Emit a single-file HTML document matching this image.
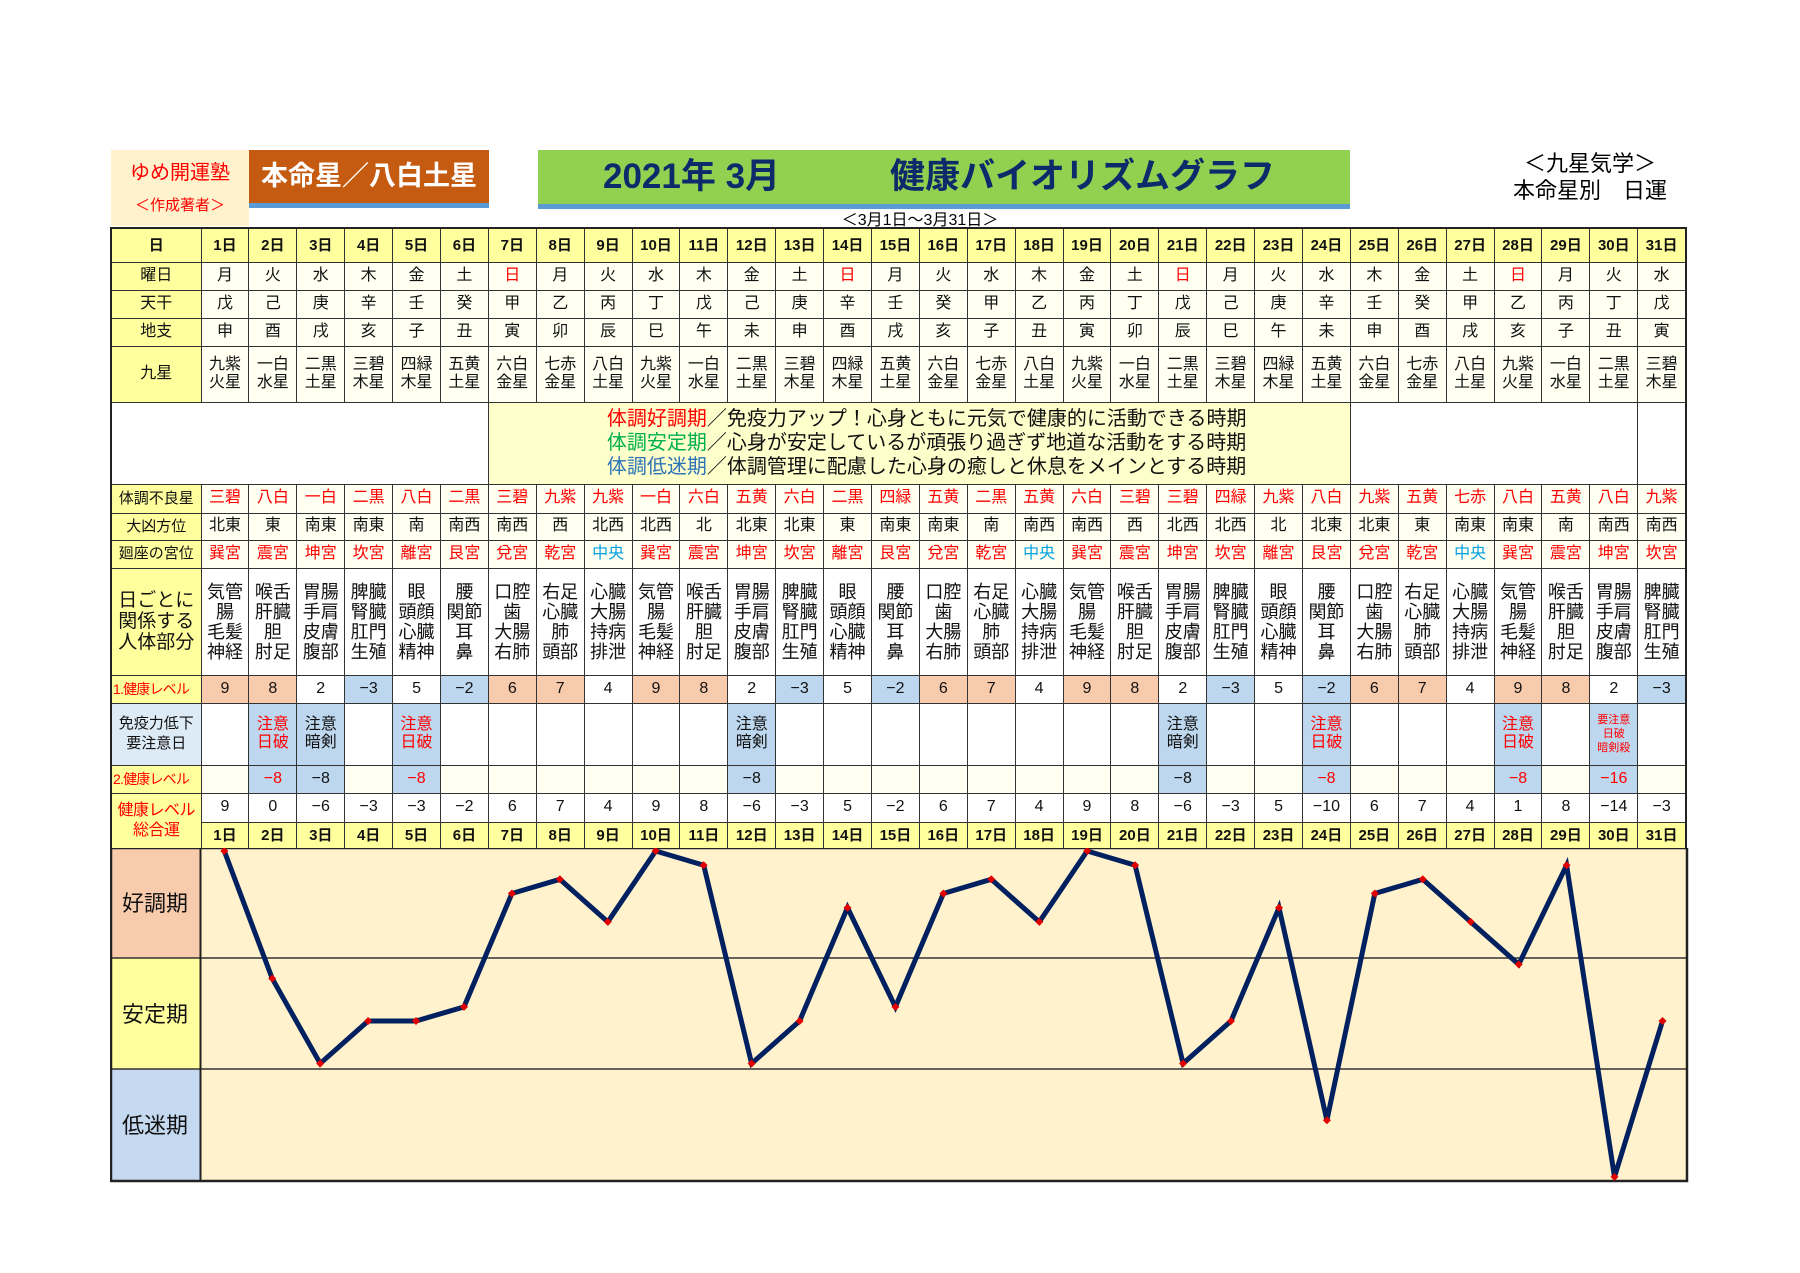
<!DOCTYPE html>
<html><head><meta charset="utf-8">
<style>
body{margin:0;width:1800px;height:1273px;background:#fff;position:relative;overflow:hidden;font-family:"Liberation Sans","Noto Sans CJK JP",sans-serif;}
.abs{position:absolute;}
table{position:absolute;left:110px;top:227px;border-collapse:collapse;table-layout:fixed;width:1577px;border:2.5px solid #222;}
td{border:1.5px solid #333;text-align:center;vertical-align:middle;padding:0;font-size:16px;color:#111;background:#fffff2;overflow:hidden;line-height:1.15;white-space:nowrap;}
td.l{background:#ffff9e;font-size:16px;}
tr.h td{background:#ffff9e;font-weight:bold;font-size:15px;}
.r{color:#f00;}.b{color:#00a0e0;}
tr.bd td{font-size:18px;line-height:20px;background:#fff;}
td.o{background:#f8cbad;}td.u{background:#bdd7ee;}td.w{background:#fff;}
td.lv{font-size:14px;letter-spacing:-0.8px;text-align:left;padding-left:1px;}
</style></head><body>
<div class="abs" style="left:111px;top:150px;width:138px;height:76px;background:#fff2cc;"></div>
<div class="abs" style="left:111px;top:156px;width:138px;text-align:center;color:#f00;font-size:20px;">ゆめ開運塾</div>
<div class="abs" style="left:111px;top:194px;width:138px;text-align:center;color:#f00;font-size:15px;">＜作成著者＞</div>
<div class="abs" style="left:249px;top:150px;width:240px;height:53px;background:#c55a11;border-bottom:5px solid #5b9bd5;color:#fff;font-size:27px;font-weight:bold;line-height:53px;text-align:center;">本命星／八白土星</div>
<div class="abs" style="left:538px;top:150px;width:812px;height:54px;background:#92d050;border-bottom:5px solid #5b9bd5;color:#0d2a6b;font-size:35px;font-weight:bold;line-height:54px;">
<span style="position:absolute;left:65px;">2021年 3月</span><span style="position:absolute;left:352px;">健康バイオリズムグラフ</span></div>
<div class="abs" style="left:800px;top:206px;width:240px;text-align:center;font-size:16px;">＜3月1日～3月31日＞</div>
<div class="abs" style="left:1480px;top:150px;width:220px;text-align:center;font-size:22px;line-height:27px;">＜九星気学＞<br>本命星別　日運</div>

<table>
<colgroup><col style="width:90px"><col span="31" style="width:47.9px"></colgroup>
<tr class="h" style="height:34px"><td>日</td><td>1日</td><td>2日</td><td>3日</td><td>4日</td><td>5日</td><td>6日</td><td>7日</td><td>8日</td><td>9日</td><td>10日</td><td>11日</td><td>12日</td><td>13日</td><td>14日</td><td>15日</td><td>16日</td><td>17日</td><td>18日</td><td>19日</td><td>20日</td><td>21日</td><td>22日</td><td>23日</td><td>24日</td><td>25日</td><td>26日</td><td>27日</td><td>28日</td><td>29日</td><td>30日</td><td>31日</td></tr>
<tr style="height:28px"><td class="l">曜日</td><td>月</td><td>火</td><td>水</td><td>木</td><td>金</td><td>土</td><td class="r">日</td><td>月</td><td>火</td><td>水</td><td>木</td><td>金</td><td>土</td><td class="r">日</td><td>月</td><td>火</td><td>水</td><td>木</td><td>金</td><td>土</td><td class="r">日</td><td>月</td><td>火</td><td>水</td><td>木</td><td>金</td><td>土</td><td class="r">日</td><td>月</td><td>火</td><td>水</td></tr>
<tr style="height:28px"><td class="l">天干</td><td>戊</td><td>己</td><td>庚</td><td>辛</td><td>壬</td><td>癸</td><td>甲</td><td>乙</td><td>丙</td><td>丁</td><td>戊</td><td>己</td><td>庚</td><td>辛</td><td>壬</td><td>癸</td><td>甲</td><td>乙</td><td>丙</td><td>丁</td><td>戊</td><td>己</td><td>庚</td><td>辛</td><td>壬</td><td>癸</td><td>甲</td><td>乙</td><td>丙</td><td>丁</td><td>戊</td></tr>
<tr style="height:28px"><td class="l">地支</td><td>申</td><td>酉</td><td>戌</td><td>亥</td><td>子</td><td>丑</td><td>寅</td><td>卯</td><td>辰</td><td>巳</td><td>午</td><td>未</td><td>申</td><td>酉</td><td>戌</td><td>亥</td><td>子</td><td>丑</td><td>寅</td><td>卯</td><td>辰</td><td>巳</td><td>午</td><td>未</td><td>申</td><td>酉</td><td>戌</td><td>亥</td><td>子</td><td>丑</td><td>寅</td></tr>
<tr style="height:56px"><td class="l">九星</td><td>九紫<br>火星</td><td>一白<br>水星</td><td>二黒<br>土星</td><td>三碧<br>木星</td><td>四緑<br>木星</td><td>五黄<br>土星</td><td>六白<br>金星</td><td>七赤<br>金星</td><td>八白<br>土星</td><td>九紫<br>火星</td><td>一白<br>水星</td><td>二黒<br>土星</td><td>三碧<br>木星</td><td>四緑<br>木星</td><td>五黄<br>土星</td><td>六白<br>金星</td><td>七赤<br>金星</td><td>八白<br>土星</td><td>九紫<br>火星</td><td>一白<br>水星</td><td>二黒<br>土星</td><td>三碧<br>木星</td><td>四緑<br>木星</td><td>五黄<br>土星</td><td>六白<br>金星</td><td>七赤<br>金星</td><td>八白<br>土星</td><td>九紫<br>火星</td><td>一白<br>水星</td><td>二黒<br>土星</td><td>三碧<br>木星</td></tr>
<tr style="height:82px"><td colspan="7" style="background:#fff"></td><td colspan="18" style="background:#ffffcc;font-size:20px;line-height:24px;text-align:left;padding-left:118px;"><span class="r">体調好調期</span>／免疫力アップ！心身ともに元気で健康的に活動できる時期<br><span style="color:#00b050">体調安定期</span>／心身が安定しているが頑張り過ぎず地道な活動をする時期<br><span style="color:#2e75b6">体調低迷期</span>／体調管理に配慮した心身の癒しと休息をメインとする時期</td><td colspan="6" style="background:#fff"></td></tr>
<tr style="height:29px"><td class="l" style="font-size:15px">体調不良星</td><td class="r">三碧</td><td class="r">八白</td><td class="r">一白</td><td class="r">二黒</td><td class="r">八白</td><td class="r">二黒</td><td class="r">三碧</td><td class="r">九紫</td><td class="r">九紫</td><td class="r">一白</td><td class="r">六白</td><td class="r">五黄</td><td class="r">六白</td><td class="r">二黒</td><td class="r">四緑</td><td class="r">五黄</td><td class="r">二黒</td><td class="r">五黄</td><td class="r">六白</td><td class="r">三碧</td><td class="r">三碧</td><td class="r">四緑</td><td class="r">九紫</td><td class="r">八白</td><td class="r">九紫</td><td class="r">五黄</td><td class="r">七赤</td><td class="r">八白</td><td class="r">五黄</td><td class="r">八白</td><td class="r">九紫</td></tr>
<tr style="height:27px"><td class="l" style="font-size:15px">大凶方位</td><td>北東</td><td>東</td><td>南東</td><td>南東</td><td>南</td><td>南西</td><td>南西</td><td>西</td><td>北西</td><td>北西</td><td>北</td><td>北東</td><td>北東</td><td>東</td><td>南東</td><td>南東</td><td>南</td><td>南西</td><td>南西</td><td>西</td><td>北西</td><td>北西</td><td>北</td><td>北東</td><td>北東</td><td>東</td><td>南東</td><td>南東</td><td>南</td><td>南西</td><td>南西</td></tr>
<tr style="height:28px"><td class="l" style="font-size:15px">廻座の宮位</td><td class="r">巽宮</td><td class="r">震宮</td><td class="r">坤宮</td><td class="r">坎宮</td><td class="r">離宮</td><td class="r">艮宮</td><td class="r">兌宮</td><td class="r">乾宮</td><td class="b">中央</td><td class="r">巽宮</td><td class="r">震宮</td><td class="r">坤宮</td><td class="r">坎宮</td><td class="r">離宮</td><td class="r">艮宮</td><td class="r">兌宮</td><td class="r">乾宮</td><td class="b">中央</td><td class="r">巽宮</td><td class="r">震宮</td><td class="r">坤宮</td><td class="r">坎宮</td><td class="r">離宮</td><td class="r">艮宮</td><td class="r">兌宮</td><td class="r">乾宮</td><td class="b">中央</td><td class="r">巽宮</td><td class="r">震宮</td><td class="r">坤宮</td><td class="r">坎宮</td></tr>
<tr class="bd" style="height:107px"><td class="l" style="font-size:19px;line-height:21px;background:#ffff9e">日ごとに<br>関係する<br>人体部分</td>
<td>気管<br>腸<br>毛髪<br>神経</td><td>喉舌<br>肝臓<br>胆<br>肘足</td><td>胃腸<br>手肩<br>皮膚<br>腹部</td><td>脾臓<br>腎臓<br>肛門<br>生殖</td><td>眼<br>頭顔<br>心臓<br>精神</td><td>腰<br>関節<br>耳<br>鼻</td><td>口腔<br>歯<br>大腸<br>右肺</td><td>右足<br>心臓<br>肺<br>頭部</td><td>心臓<br>大腸<br>持病<br>排泄</td>
<td>気管<br>腸<br>毛髪<br>神経</td><td>喉舌<br>肝臓<br>胆<br>肘足</td><td>胃腸<br>手肩<br>皮膚<br>腹部</td><td>脾臓<br>腎臓<br>肛門<br>生殖</td><td>眼<br>頭顔<br>心臓<br>精神</td><td>腰<br>関節<br>耳<br>鼻</td><td>口腔<br>歯<br>大腸<br>右肺</td><td>右足<br>心臓<br>肺<br>頭部</td><td>心臓<br>大腸<br>持病<br>排泄</td>
<td>気管<br>腸<br>毛髪<br>神経</td><td>喉舌<br>肝臓<br>胆<br>肘足</td><td>胃腸<br>手肩<br>皮膚<br>腹部</td><td>脾臓<br>腎臓<br>肛門<br>生殖</td><td>眼<br>頭顔<br>心臓<br>精神</td><td>腰<br>関節<br>耳<br>鼻</td><td>口腔<br>歯<br>大腸<br>右肺</td><td>右足<br>心臓<br>肺<br>頭部</td><td>心臓<br>大腸<br>持病<br>排泄</td>
<td>気管<br>腸<br>毛髪<br>神経</td><td>喉舌<br>肝臓<br>胆<br>肘足</td><td>胃腸<br>手肩<br>皮膚<br>腹部</td><td>脾臓<br>腎臓<br>肛門<br>生殖</td></tr>
<tr style="height:28px"><td class="l r lv">1.健康レベル</td><td class="o">9</td><td class="o">8</td><td class="w">2</td><td class="u">−3</td><td class="w">5</td><td class="u">−2</td><td class="o">6</td><td class="o">7</td><td class="w">4</td><td class="o">9</td><td class="o">8</td><td class="w">2</td><td class="u">−3</td><td class="w">5</td><td class="u">−2</td><td class="o">6</td><td class="o">7</td><td class="w">4</td><td class="o">9</td><td class="o">8</td><td class="w">2</td><td class="u">−3</td><td class="w">5</td><td class="u">−2</td><td class="o">6</td><td class="o">7</td><td class="w">4</td><td class="o">9</td><td class="o">8</td><td class="w">2</td><td class="u">−3</td></tr>
<tr style="height:62px"><td style="background:#ddebf7;font-size:15px;line-height:20px">免疫力低下<br>要注意日</td><td class="w"></td><td class="u r">注意<br>日破</td><td class="u">注意<br>暗剣</td><td class="w"></td><td class="u r">注意<br>日破</td><td class="w"></td><td class="w"></td><td class="w"></td><td class="w"></td><td class="w"></td><td class="w"></td><td class="u">注意<br>暗剣</td><td class="w"></td><td class="w"></td><td class="w"></td><td class="w"></td><td class="w"></td><td class="w"></td><td class="w"></td><td class="w"></td><td class="u">注意<br>暗剣</td><td class="w"></td><td class="w"></td><td class="u r">注意<br>日破</td><td class="w"></td><td class="w"></td><td class="w"></td><td class="u r">注意<br>日破</td><td class="w"></td><td class="u r" style="font-size:11px;line-height:14px">要注意<br>日破<br>暗剣殺</td><td class="w"></td></tr>
<tr style="height:28px"><td class="l r lv">2.健康レベル</td><td></td><td class="u r">−8</td><td class="u">−8</td><td></td><td class="u r">−8</td><td></td><td></td><td></td><td></td><td></td><td></td><td class="u">−8</td><td></td><td></td><td></td><td></td><td></td><td></td><td></td><td></td><td class="u">−8</td><td></td><td></td><td class="u r">−8</td><td></td><td></td><td></td><td class="u r">−8</td><td></td><td class="u r">−16</td><td></td></tr>
<tr style="height:29px"><td class="l r" rowspan="2" style="font-size:16px;line-height:20px;letter-spacing:-0.5px">健康レベル<br>総合運</td><td class="w">9</td><td class="w">0</td><td class="w">−6</td><td class="w">−3</td><td class="w">−3</td><td class="w">−2</td><td class="w">6</td><td class="w">7</td><td class="w">4</td><td class="w">9</td><td class="w">8</td><td class="w">−6</td><td class="w">−3</td><td class="w">5</td><td class="w">−2</td><td class="w">6</td><td class="w">7</td><td class="w">4</td><td class="w">9</td><td class="w">8</td><td class="w">−6</td><td class="w">−3</td><td class="w">5</td><td class="w">−10</td><td class="w">6</td><td class="w">7</td><td class="w">4</td><td class="w">1</td><td class="w">8</td><td class="w">−14</td><td class="w">−3</td></tr>
<tr class="h" style="height:27px"><td>1日</td><td>2日</td><td>3日</td><td>4日</td><td>5日</td><td>6日</td><td>7日</td><td>8日</td><td>9日</td><td>10日</td><td>11日</td><td>12日</td><td>13日</td><td>14日</td><td>15日</td><td>16日</td><td>17日</td><td>18日</td><td>19日</td><td>20日</td><td>21日</td><td>22日</td><td>23日</td><td>24日</td><td>25日</td><td>26日</td><td>27日</td><td>28日</td><td>29日</td><td>30日</td><td>31日</td></tr>
</table>

<svg class="abs" style="left:110px;top:848px" width="1580" height="337" viewBox="0 0 1580 337">
<rect x="0" y="0" width="1577" height="334" fill="#fff2cc"/>
<rect x="0" y="0" width="90" height="110" fill="#f8cbad"/>
<rect x="0" y="110" width="90" height="111" fill="#ffff9e"/>
<rect x="0" y="221" width="90" height="113" fill="#c5d9f1"/>
<line x1="0" y1="110" x2="1577" y2="110" stroke="#333" stroke-width="1.5"/>
<line x1="0" y1="221" x2="1577" y2="221" stroke="#333" stroke-width="1.5"/>
<line x1="90.5" y1="0" x2="90.5" y2="334" stroke="#222" stroke-width="2"/>
<rect x="1" y="0" width="1576" height="333" fill="none" stroke="#222" stroke-width="2.5"/>
<g font-family="Liberation Sans,Noto Sans CJK JP,sans-serif" font-size="22" fill="#111" text-anchor="middle">
<text x="45" y="63">好調期</text><text x="45" y="174">安定期</text><text x="45" y="285">低迷期</text></g>
<polyline fill="none" stroke="#002060" stroke-width="5" stroke-linejoin="miter" points="114.3,3 162.2,130.5 210.2,215.5 258.1,173 306,173 354,158.9 401.9,45.5 449.9,31.3 497.8,73.9 545.7,3 593.7,17.2 641.6,215.5 689.6,173 737.5,59.7 785.4,158.9 833.4,45.5 881.3,31.3 929.3,73.9 977.2,3 1025.1,17.2 1073.1,215.5 1121,173 1169,59.7 1216.9,272.2 1264.8,45.5 1312.8,31.3 1360.7,73.9 1408.7,116.4 1456.6,17.2 1504.5,328.9 1552.5,173"/>
<g fill="#e00000">
<path d="M114.3,-1l4,4-4,4-4-4z"/><path d="M162.2,126.5l4,4-4,4-4-4z"/><path d="M210.2,211.5l4,4-4,4-4-4z"/><path d="M258.1,169l4,4-4,4-4-4z"/><path d="M306,169l4,4-4,4-4-4z"/><path d="M354,154.9l4,4-4,4-4-4z"/><path d="M401.9,41.5l4,4-4,4-4-4z"/><path d="M449.9,27.3l4,4-4,4-4-4z"/><path d="M497.8,69.9l4,4-4,4-4-4z"/><path d="M545.7,-1l4,4-4,4-4-4z"/><path d="M593.7,13.2l4,4-4,4-4-4z"/><path d="M641.6,211.5l4,4-4,4-4-4z"/><path d="M689.6,169l4,4-4,4-4-4z"/><path d="M737.5,55.7l4,4-4,4-4-4z"/><path d="M785.4,154.9l4,4-4,4-4-4z"/><path d="M833.4,41.5l4,4-4,4-4-4z"/><path d="M881.3,27.3l4,4-4,4-4-4z"/><path d="M929.3,69.9l4,4-4,4-4-4z"/><path d="M977.2,-1l4,4-4,4-4-4z"/><path d="M1025.1,13.2l4,4-4,4-4-4z"/><path d="M1073.1,211.5l4,4-4,4-4-4z"/><path d="M1121,169l4,4-4,4-4-4z"/><path d="M1169,55.7l4,4-4,4-4-4z"/><path d="M1216.9,268.2l4,4-4,4-4-4z"/><path d="M1264.8,41.5l4,4-4,4-4-4z"/><path d="M1312.8,27.3l4,4-4,4-4-4z"/><path d="M1360.7,69.9l4,4-4,4-4-4z"/><path d="M1408.7,112.4l4,4-4,4-4-4z"/><path d="M1456.6,13.2l4,4-4,4-4-4z"/><path d="M1504.5,324.9l4,4-4,4-4-4z"/><path d="M1552.5,169l4,4-4,4-4-4z"/>
</g>
</svg>
</body></html>
